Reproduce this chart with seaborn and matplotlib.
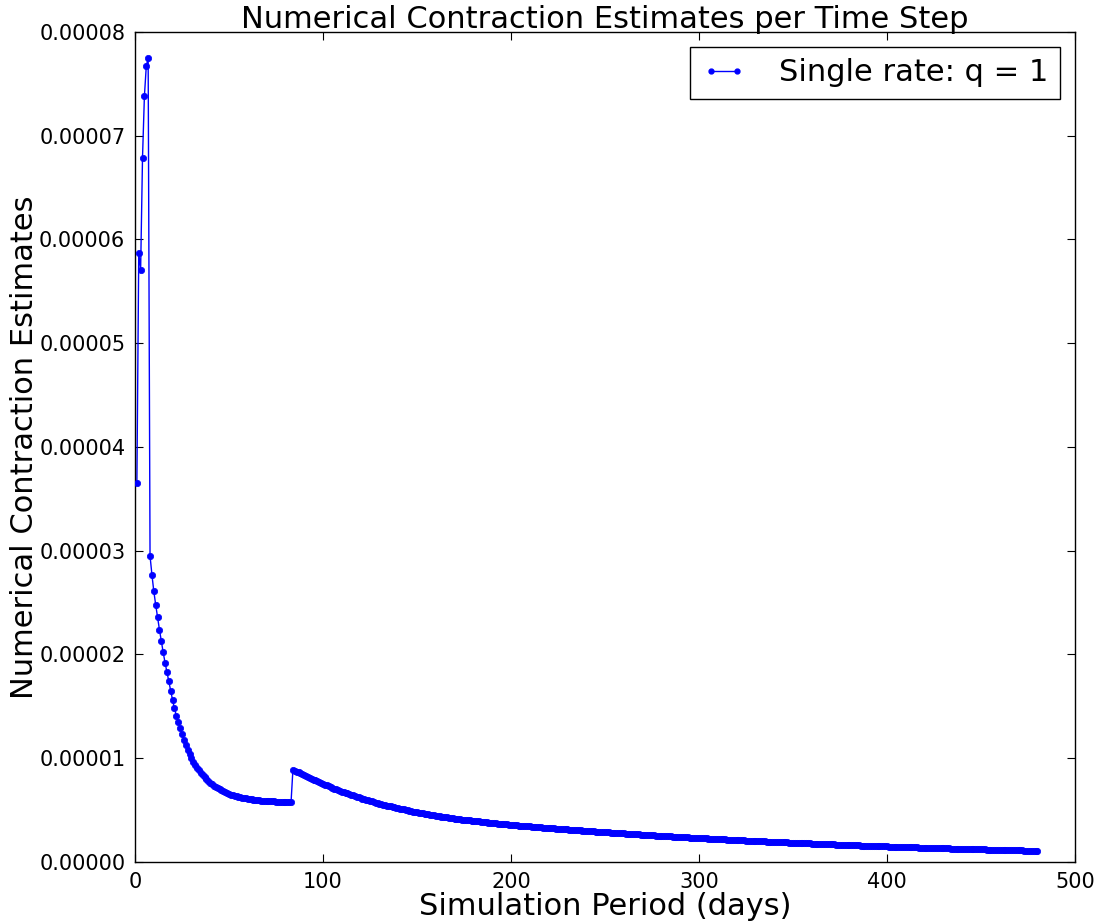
import numpy as np
import pandas as pd
import seaborn as sns
import matplotlib
matplotlib.use("Agg")
import matplotlib.pyplot as plt
from matplotlib.lines import Line2D
from matplotlib.ticker import FormatStrFormatter, MultipleLocator

# Contraction estimate per simulated day, in units of 1e-6.
# Start-up transient (days 1-7)
startup_e6 = [36.5, 58.7, 57.1, 67.9, 73.8, 76.7, 77.5]

# First decay phase (days 8-83)
decay1_e6 = [
    29.5, 27.7, 26.1, 24.8, 23.6, 22.4, 21.3, 20.2, 19.2, 18.3,
    17.4, 16.5, 15.6, 14.8, 14.1, 13.5, 12.9, 12.3, 11.8, 11.3,
    10.8, 10.4, 10.0, 9.67, 9.36, 9.08, 8.82, 8.58, 8.36, 8.16,
    7.97, 7.79, 7.63, 7.48, 7.35, 7.22, 7.10, 7.00, 6.90, 6.80,
    6.72, 6.64, 6.57, 6.50, 6.44, 6.38, 6.33, 6.28, 6.24, 6.20,
    6.16, 6.12, 6.09, 6.06, 6.03, 6.01, 5.98, 5.96, 5.94, 5.92,
    5.91, 5.89, 5.88, 5.86, 5.85, 5.84, 5.83, 5.82, 5.81, 5.80,
    5.79, 5.78, 5.77, 5.76, 5.75, 5.74,
]

# Second decay phase after the rate jump (days 84-480)
decay2_e6 = [
    8.900, 8.808, 8.717, 8.627, 8.537, 8.449, 8.362, 8.275, 8.190, 8.105,
    8.021, 7.938, 7.856, 7.775, 7.694, 7.615, 7.536, 7.458, 7.381, 7.304,
    7.229, 7.154, 7.080, 7.007, 6.934, 6.863, 6.792, 6.728, 6.664, 6.601,
    6.539, 6.477, 6.416, 6.355, 6.295, 6.235, 6.176, 6.118, 6.060, 6.003,
    5.946, 5.890, 5.834, 5.779, 5.724, 5.670, 5.616, 5.571, 5.527, 5.483,
    5.439, 5.396, 5.353, 5.310, 5.268, 5.226, 5.184, 5.143, 5.102, 5.061,
    5.021, 4.981, 4.941, 4.902, 4.863, 4.824, 4.786, 4.754, 4.721, 4.689,
    4.658, 4.626, 4.595, 4.564, 4.533, 4.502, 4.472, 4.441, 4.411, 4.382,
    4.352, 4.322, 4.293, 4.264, 4.235, 4.207, 4.178, 4.156, 4.135, 4.113,
    4.092, 4.071, 4.050, 4.029, 4.008, 3.987, 3.967, 3.946, 3.926, 3.905,
    3.885, 3.865, 3.845, 3.825, 3.805, 3.786, 3.766, 3.747, 3.727, 3.708,
    3.689, 3.670, 3.651, 3.632, 3.613, 3.595, 3.576, 3.560, 3.545, 3.529,
    3.514, 3.498, 3.483, 3.468, 3.452, 3.437, 3.422, 3.407, 3.392, 3.377,
    3.362, 3.348, 3.333, 3.318, 3.304, 3.289, 3.275, 3.261, 3.246, 3.232,
    3.218, 3.204, 3.190, 3.176, 3.162, 3.148, 3.134, 3.121, 3.107, 3.093,
    3.080, 3.066, 3.053, 3.040, 3.026, 3.013, 3.000, 2.987, 2.973, 2.960,
    2.947, 2.934, 2.922, 2.909, 2.896, 2.883, 2.871, 2.858, 2.846, 2.833,
    2.821, 2.808, 2.796, 2.784, 2.772, 2.760, 2.747, 2.735, 2.723, 2.711,
    2.700, 2.688, 2.676, 2.664, 2.653, 2.641, 2.629, 2.618, 2.606, 2.595,
    2.584, 2.572, 2.561, 2.550, 2.539, 2.528, 2.516, 2.505, 2.494, 2.483,
    2.473, 2.462, 2.451, 2.440, 2.430, 2.419, 2.408, 2.398, 2.387, 2.377,
    2.366, 2.356, 2.346, 2.335, 2.325, 2.315, 2.305, 2.295, 2.285, 2.275,
    2.265, 2.255, 2.245, 2.236, 2.226, 2.216, 2.207, 2.197, 2.188, 2.178,
    2.169, 2.160, 2.150, 2.141, 2.132, 2.122, 2.113, 2.104, 2.095, 2.086,
    2.077, 2.068, 2.059, 2.050, 2.041, 2.032, 2.024, 2.015, 2.006, 1.997,
    1.989, 1.980, 1.972, 1.963, 1.955, 1.946, 1.937, 1.929, 1.921, 1.912,
    1.904, 1.896, 1.888, 1.879, 1.871, 1.863, 1.855, 1.847, 1.839, 1.831,
    1.823, 1.815, 1.807, 1.799, 1.792, 1.784, 1.776, 1.768, 1.761, 1.753,
    1.746, 1.738, 1.730, 1.723, 1.715, 1.708, 1.701, 1.693, 1.686, 1.679,
    1.671, 1.664, 1.657, 1.650, 1.643, 1.636, 1.628, 1.621, 1.614, 1.607,
    1.600, 1.593, 1.587, 1.580, 1.573, 1.566, 1.559, 1.552, 1.546, 1.539,
    1.532, 1.526, 1.519, 1.513, 1.506, 1.500, 1.493, 1.487, 1.481, 1.475,
    1.469, 1.463, 1.457, 1.451, 1.445, 1.439, 1.433, 1.427, 1.421, 1.415,
    1.410, 1.404, 1.398, 1.392, 1.387, 1.381, 1.375, 1.369, 1.364, 1.358,
    1.353, 1.347, 1.342, 1.336, 1.331, 1.325, 1.320, 1.315, 1.309, 1.304,
    1.298, 1.293, 1.288, 1.283, 1.277, 1.272, 1.267, 1.262, 1.257, 1.251,
    1.246, 1.241, 1.236, 1.231, 1.226, 1.221, 1.216, 1.211, 1.206, 1.201,
    1.196, 1.191, 1.186, 1.181, 1.177, 1.172, 1.167, 1.162, 1.157, 1.153,
    1.148, 1.143, 1.139, 1.134, 1.129, 1.125, 1.120, 1.115, 1.111, 1.106,
    1.102, 1.097, 1.093, 1.088, 1.084, 1.080, 1.075,
]

first_day = 1
series_label = "Single rate: q = 1"
line_color = "#0000ff"

estimates = np.array(startup_e6 + decay1_e6 + decay2_e6) * 1e-6
days = np.arange(first_day, first_day + len(estimates))
df = pd.DataFrame({"day": days, "estimate": estimates})

sns.set_style("ticks")
plt.rcParams["font.family"] = ["DejaVu Sans"]
plt.rcParams["text.color"] = "black"
plt.rcParams["axes.labelcolor"] = "black"

fig = plt.figure(figsize=(11.02, 9.22), dpi=100)
ax = fig.add_axes([0.1225, 0.0651, 0.853, 0.9002])

# connecting line
sns.lineplot(data=df, x="day", y="estimate", ax=ax, color=line_color,
             linewidth=1.0, sort=False, legend=False)
# point markers (drawn as a collection so positions stay sub-pixel smooth)
sns.scatterplot(data=df, x="day", y="estimate", ax=ax, color=line_color,
                s=21, edgecolor=line_color, linewidth=0.5, legend=False,
                zorder=3)

ax.set_xlim(0, 500)
ax.set_ylim(0, 0.00008)
ax.xaxis.set_major_locator(MultipleLocator(100))
ax.yaxis.set_major_locator(MultipleLocator(0.00001))
ax.yaxis.set_major_formatter(FormatStrFormatter("%.5f"))

for side in ["top", "right", "bottom", "left"]:
    ax.spines[side].set_visible(True)
    ax.spines[side].set_color("black")
    ax.spines[side].set_linewidth(1.0)

ax.tick_params(direction="in", length=6, width=0.8, top=True, right=True,
               labelsize=15, colors="black", pad=7)

ax.set_title("Numerical Contraction Estimates per Time Step", fontsize=22,
             pad=3, color="black")
ax.set_xlabel("Simulation Period (days)", fontsize=22, labelpad=0)
ax.set_ylabel("Numerical Contraction Estimates", fontsize=22, labelpad=0)

handle = Line2D([], [], color=line_color, linewidth=1.0, marker="o",
                markersize=3.5, markeredgecolor=line_color)
leg = ax.legend(handles=[handle], labels=[series_label], loc="upper right",
                fontsize=22, frameon=True, fancybox=False, framealpha=1.0,
                edgecolor="black", borderpad=0.38, numpoints=2,
                handlelength=1.45, handletextpad=1.1, borderaxespad=0.48)
leg.get_frame().set_linewidth(1.0)

fig.savefig("out.png", dpi=100, facecolor="white")
